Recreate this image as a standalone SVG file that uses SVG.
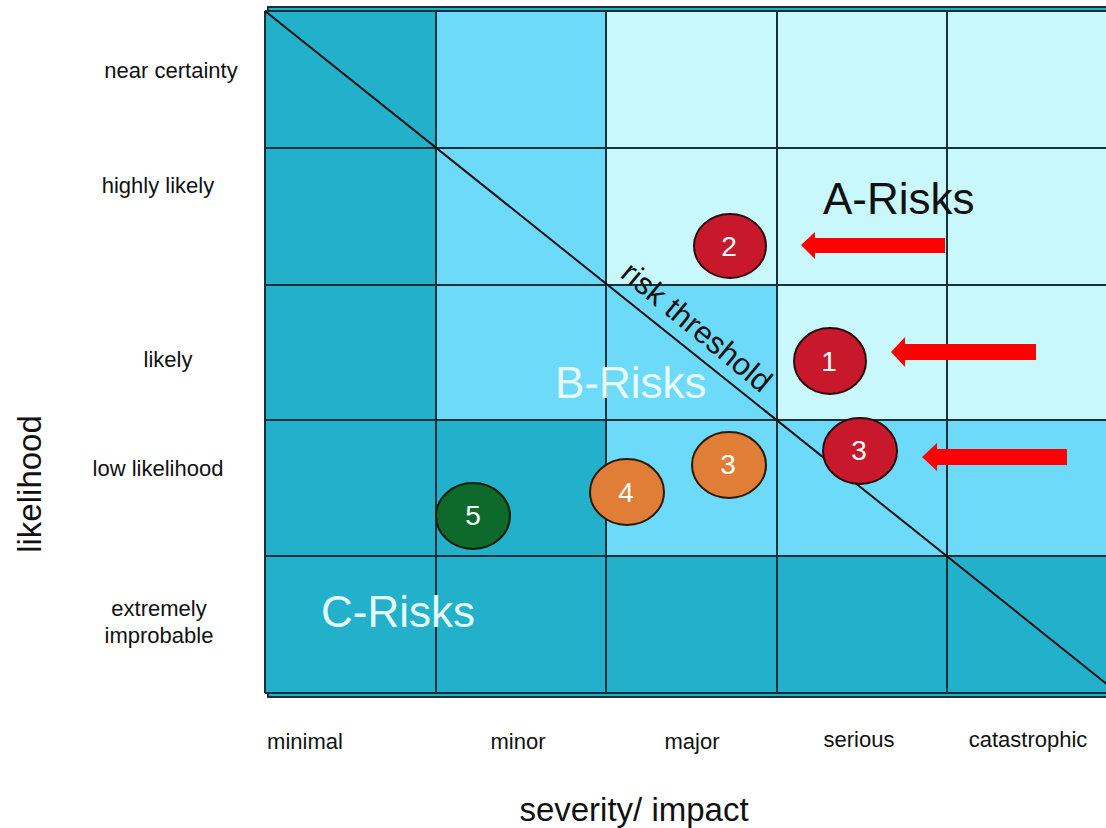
<svg xmlns="http://www.w3.org/2000/svg" width="1106" height="828" viewBox="0 0 1106 828">
<style>
.dk{fill:#22b0cb}
.md{fill:#6cdaf8}
.lt{fill:#c8f8fc}
.gl{stroke:#17313a;stroke-width:2;fill:none}
.lbl{font-family:"Liberation Sans",Arial,sans-serif;font-size:22px;fill:#111}
.ax{font-family:"Liberation Sans",Arial,sans-serif;font-size:33px;fill:#111;text-anchor:middle}
.thr{font-family:"Liberation Sans",Arial,sans-serif;font-size:31px;fill:#111;text-anchor:middle}
.big{font-family:"Liberation Sans",Arial,sans-serif;font-size:44px}
.num{font-family:"Liberation Sans",Arial,sans-serif;font-size:28px;fill:#fff;text-anchor:middle}
.red{fill:#c8192c;stroke:#2a0a0a;stroke-width:2}
.org{fill:#e07d36;stroke:#2a1a0a;stroke-width:2}
.grn{fill:#0d6a2a;stroke:#0a1a0a;stroke-width:2}
.arr{fill:#ff0000}
</style>
<rect width="1106" height="828" fill="#ffffff"/>
<g id="grid">
<rect x="268" y="7" width="900" height="690" class="dk" stroke="#17313a" stroke-width="2"/>
<rect x="265" y="11" width="171" height="682" class="dk"/>
<rect x="436" y="11" width="170" height="409" class="md"/>
<rect x="436" y="420" width="170" height="136" class="dk"/>
<rect x="606" y="11" width="171" height="274" class="lt"/>
<rect x="606" y="285" width="171" height="271" class="md"/>
<rect x="777" y="11" width="170" height="409" class="lt"/>
<rect x="777" y="420" width="170" height="136" class="md"/>
<rect x="947" y="11" width="175" height="409" class="lt"/>
<rect x="947" y="420" width="175" height="136" class="md"/>
<rect x="265" y="556" width="857" height="137" class="dk"/>
<path class="gl" d="M265 11H1122M265 148H1122M265 285H1122M265 420H1122M265 556H1122M265 693H1122M265 11V693M436 11V693M606 11V693M777 11V693M947 11V693"/>
</g>
<g id="threshold">
<line x1="265" y1="11" x2="1118" y2="693" stroke="#111" stroke-width="2"/>
<text class="thr" transform="translate(690,335) rotate(39.5)">risk threshold</text>
</g>
<g id="zones">
<text class="big" x="823" y="214" fill="#111">A-Risks</text>
<text class="big" x="555" y="398" fill="#e6fcff">B-Risks</text>
<text class="big" x="321" y="627" fill="#e6fcff">C-Risks</text>
</g>
<g id="risk2"><ellipse class="red" cx="730" cy="246" rx="36" ry="32"/><text class="num" x="729" y="256">2</text></g>
<g id="risk1"><ellipse class="red" cx="830" cy="361" rx="36" ry="33"/><text class="num" x="829" y="371">1</text></g>
<g id="risk3a"><ellipse class="red" cx="860" cy="451" rx="37" ry="33"/><text class="num" x="859" y="460">3</text></g>
<g id="risk3b"><ellipse class="org" cx="729" cy="465" rx="37" ry="33"/><text class="num" x="728" y="474">3</text></g>
<g id="risk4"><ellipse class="org" cx="627" cy="492" rx="37" ry="33"/><text class="num" x="626" y="502">4</text></g>
<g id="risk5"><ellipse class="grn" cx="473" cy="516" rx="37" ry="33"/><text class="num" x="473" y="525">5</text></g>
<g id="connectors">
<polygon class="arr" points="945,238 815,238 815,232 801,245 815,259 815,253 945,253"/>
<polygon class="arr" points="1036,344 905,344 905,337 891,352 905,367 905,360 1036,360"/>
<polygon class="arr" points="1067,449 937,449 937,443 922,457 937,471 937,465 1067,465"/>
</g>
<g id="ylabels">
<text class="lbl" x="171" y="78" text-anchor="middle">near certainty</text>
<text class="lbl" x="158" y="193" text-anchor="middle">highly likely</text>
<text class="lbl" x="168" y="367" text-anchor="middle">likely</text>
<text class="lbl" x="158" y="476" text-anchor="middle">low likelihood</text>
<text class="lbl" x="159" y="616" text-anchor="middle">extremely</text>
<text class="lbl" x="159" y="643" text-anchor="middle">improbable</text>
<text class="ax" transform="translate(41,484) rotate(-90)">likelihood</text>
</g>
<g id="xlabels">
<text class="lbl" x="305" y="749" text-anchor="middle">minimal</text>
<text class="lbl" x="518" y="749" text-anchor="middle">minor</text>
<text class="lbl" x="692" y="749" text-anchor="middle">major</text>
<text class="lbl" x="859" y="747" text-anchor="middle">serious</text>
<text class="lbl" x="1028" y="747" text-anchor="middle">catastrophic</text>
<text class="ax" x="634" y="821">severity/ impact</text>
</g>
</svg>
